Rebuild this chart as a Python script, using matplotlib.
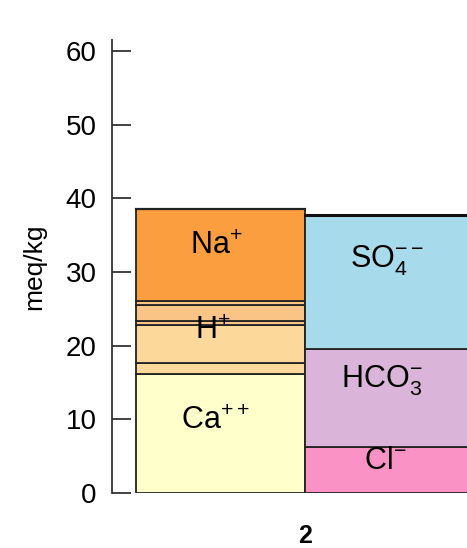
import numpy as np
import matplotlib
matplotlib.use("Agg")
import matplotlib.pyplot as plt

plt.rcParams['font.family'] = ['Liberation Sans', 'DejaVu Sans']
plt.rcParams['mathtext.fontset'] = 'custom'
plt.rcParams['mathtext.rm'] = 'Liberation Sans'
plt.rcParams['mathtext.it'] = 'Liberation Sans'

# sample label
sample = "2"

# cation stack, bottom to top (meq/kg)
cation_names = [r'Ca$^{++}$', '', r'H$^{+}$', '', '', '', r'Na$^{+}$']
cation_vals = [16.2, 1.4, 5.2, 0.6, 2.1, 0.5, 12.6]
cation_colors = ['#FFFFCC', '#FDD89B', '#FDD89B', '#FAC487', '#FAC487', '#FAC487', '#FB9E3F']

# anion stack, bottom to top (meq/kg)
anion_names = [r'Cl$^{-}$', r'HCO$_3^{-}$', r'SO$_4^{--}$']
anion_vals = [6.3, 13.2, 18.3]
anion_colors = ['#FA92C6', '#DAB4D9', '#A7DAEA']

# label offsets within each layer (fraction of layer height)
cation_label_frac = [0.6, 0, 0.85, 0, 0, 0, 0.6]
anion_label_frac = [0.68, 0.68, 0.66]

fig = plt.figure(figsize=(4.67, 5.48), dpi=100)
ax = fig.add_axes([0.2398, 0.1004, 0.77, 0.8266])

# cations on the left of the sample position, anions on the right
cb = np.concatenate([[0], np.cumsum(cation_vals)[:-1]])
ab = np.concatenate([[0], np.cumsum(anion_vals)[:-1]])

ax.bar(np.full(len(cation_vals), -0.5), cation_vals, width=1.0, bottom=cb,
       color=cation_colors, edgecolor='#222222', linewidth=1.3)
ax.bar(np.full(len(anion_vals), 0.5), anion_vals, width=1.0, bottom=ab,
       color=anion_colors, edgecolor='#222222', linewidth=1.3)
# heavier outline on the stack tops
ax.plot([-1, 0], [sum(cation_vals)] * 2, color='#222222', lw=1.6)
ax.plot([0, 1], [sum(anion_vals)] * 2, color='#111111', lw=2.2)

cation_x = [-0.53, 0, -0.55, 0, 0, 0, -0.53]
anion_x = [0.47, 0.45, 0.48]
for name, b, v, f, x in zip(cation_names, cb, cation_vals, cation_label_frac, cation_x):
    if name:
        ax.text(x, b + v * f, name, ha='center', va='center', fontsize=22)
for name, b, v, f, x in zip(anion_names, ab, anion_vals, anion_label_frac, anion_x):
    ax.text(x, b + v * f, name, ha='center', va='center', fontsize=22)

ax.set_xlim(-1.144, 0.982)
ax.set_ylim(0, 61.5)
ax.set_yticks(np.arange(0, 61, 10))
ax.set_xticks([0])
ax.set_xticklabels([sample], fontsize=18, fontweight='bold')
ax.tick_params(axis='x', length=0, pad=22)
ax.tick_params(axis='y', direction='in', length=14, width=1.3, color='#333333',
               labelsize=20, pad=11)
ax.set_ylabel('meq/kg', fontsize=19, labelpad=14)

for s in ['top', 'right', 'bottom']:
    ax.spines[s].set_visible(False)
ax.spines['left'].set_color('#333333')
ax.spines['left'].set_linewidth(1.3)

fig.savefig('out.png', dpi=100)
